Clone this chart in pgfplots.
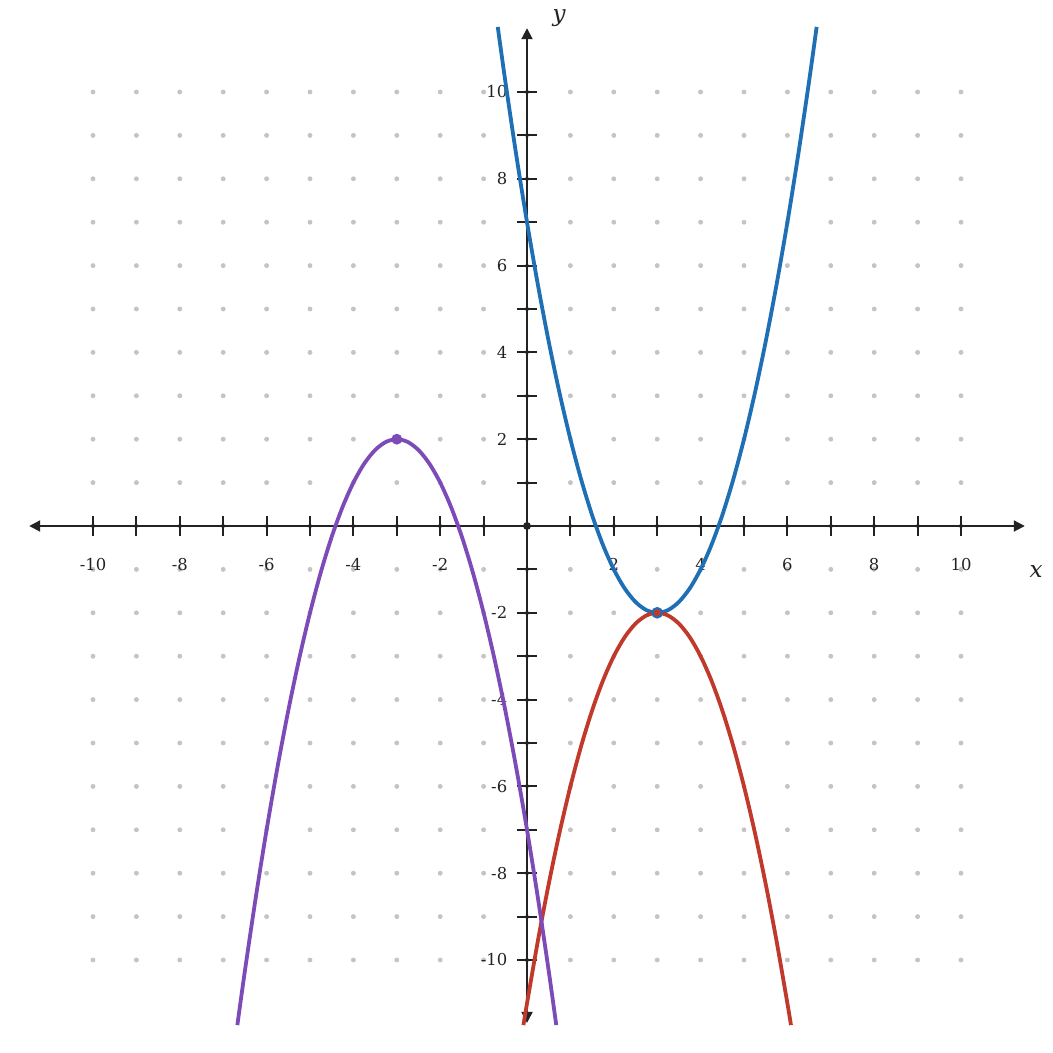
\documentclass[border=0pt]{standalone}
\usepackage{fontspec}
\setmainfont{DejaVu Serif}
\usepackage{pgfplots}
\pgfplotsset{compat=1.18}
\usetikzlibrary{arrows.meta}
\definecolor{axcol}{HTML}{222222}
\definecolor{dotgray}{HTML}{C4C4C4}
\definecolor{cblue}{HTML}{1F6FB5}
\definecolor{cred}{HTML}{C0392B}
\definecolor{cpurple}{HTML}{7D4BB8}
\begin{document}
\begin{tikzpicture}
\begin{axis}[
  set layers=standard,
  x=21.7pt, y=21.7pt,
  xmin=-11.47, xmax=11.47, ymin=-11.45, ymax=11.47,
  axis lines=middle,
  clip=false,
  every inner x axis line/.append style={{Triangle[length=5.5pt,width=5.5pt]}-{Triangle[length=5.5pt,width=5.5pt]}},
  every inner y axis line/.append style={{Triangle[length=5.5pt,width=5.5pt]}-{Triangle[length=5.5pt,width=5.5pt]}},
  axis line style={color=axcol, line width=1pt},
  xtick={-10,-8,-6,-4,-2,2,4,6,8,10},
  xticklabels={-10,-8,-6,-4,-2,2,4,6,8,10},
  ytick={-10,-8,-6,-4,-2,2,4,6,8,10},
  yticklabels={-10,-8,-6,-4,-2,2,4,6,8,10},
  minor xtick={-9,-7,...,9},
  minor ytick={-9,-7,...,9},
  tick align=center,
  major tick length=10pt,
  minor tick length=10pt,
  every tick/.style={color=axcol, line width=1pt},
  xticklabel style={font=\fontsize{8.2}{9.8}\selectfont, text=axcol, anchor=center, inner sep=0pt, yshift=-14.2pt},
  yticklabel style={font=\fontsize{8.2}{9.8}\selectfont, text=axcol, anchor=east, inner sep=0pt, xshift=-4.7pt},
  xlabel={x}, ylabel={y},
  every axis x label/.style={at={(axis cs:11.73,-1.06)}, anchor=center, font=\fontsize{11.5}{13}\selectfont\itshape, text=axcol},
  every axis y label/.style={at={(axis cs:0.74,11.7)}, anchor=center, font=\fontsize{11.5}{13}\selectfont\itshape, text=axcol},
]
\pgfplotsinvokeforeach{-10,...,10}{
  \addplot[on layer=axis background, mark layer=axis background, only marks, mark=*, mark size=1pt, color=dotgray, mark options={draw=none, fill=dotgray}]
    coordinates {(-10,#1) (-9,#1) (-8,#1) (-7,#1) (-6,#1) (-5,#1) (-4,#1) (-3,#1) (-2,#1) (-1,#1) (0,#1) (1,#1) (2,#1) (3,#1) (4,#1) (5,#1) (6,#1) (7,#1) (8,#1) (9,#1) (10,#1)};
}
% blue: upward parabola
\addplot[cblue, line width=1.9pt, smooth] coordinates {
(-0.674,11.5) (-0.5,10.25) (-0.25,8.5625) (0,7) (0.25,5.5625) (0.5,4.25) (0.75,3.0625) (1,2)
(1.25,1.0625) (1.5,0.25) (1.75,-0.4375) (2,-1) (2.25,-1.4375) (2.5,-1.75) (2.75,-1.9375) (3,-2)
(3.25,-1.9375) (3.5,-1.75) (3.75,-1.4375) (4,-1) (4.25,-0.4375) (4.5,0.25) (4.75,1.0625) (5,2)
(5.25,3.0625) (5.5,4.25) (5.75,5.5625) (6,7) (6.25,8.5625) (6.5,10.25) (6.674,11.5)};
% red: downward parabola
\addplot[cred, line width=1.9pt, smooth] coordinates {
(-0.082,-11.5) (0,-11) (0.25,-9.5625) (0.5,-8.25) (0.75,-7.0625) (1,-6) (1.25,-5.0625) (1.5,-4.25)
(1.75,-3.5625) (2,-3) (2.25,-2.5625) (2.5,-2.25) (2.75,-2.0625) (3,-2) (3.25,-2.0625) (3.5,-2.25)
(3.75,-2.5625) (4,-3) (4.25,-3.5625) (4.5,-4.25) (4.75,-5.0625) (5,-6) (5.25,-7.0625) (5.5,-8.25)
(5.75,-9.5625) (6,-11) (6.082,-11.5)};
% purple
\addplot[cpurple, line width=1.9pt, smooth] coordinates {
(-6.674,-11.5) (-6.5,-10.25) (-6.25,-8.5625) (-6,-7) (-5.75,-5.5625) (-5.5,-4.25) (-5.25,-3.0625) (-5,-2)
(-4.75,-1.0625) (-4.5,-0.25) (-4.25,0.4375) (-4,1) (-3.75,1.4375) (-3.5,1.75) (-3.25,1.9375) (-3,2)
(-2.75,1.9375) (-2.5,1.75) (-2.25,1.4375) (-2,1) (-1.75,0.4375) (-1.5,-0.25) (-1.25,-1.0625) (-1,-2)
(-0.75,-3.0625) (-0.5,-4.25) (-0.25,-5.5625) (0,-7) (0.25,-8.5625) (0.5,-10.25) (0.674,-11.5)};
\addplot[only marks, mark=*, mark size=2.5pt, mark options={draw=cpurple, fill=cpurple}] coordinates {(-3,2)};
\addplot[only marks, mark=*, mark size=2.4pt, mark options={draw=cblue, fill=cred, line width=1pt}] coordinates {(3,-2)};
\addplot[only marks, mark=*, mark size=1.75pt, mark options={draw=axcol, fill=axcol}] coordinates {(0,0)};
\coordinate (bl) at (axis cs:-12.143,-12.143);
\coordinate (tr) at (axis cs:12.12,12.12);
\end{axis}
\pgfresetboundingbox
\useasboundingbox (bl) rectangle (tr);
\end{tikzpicture}
\end{document}
